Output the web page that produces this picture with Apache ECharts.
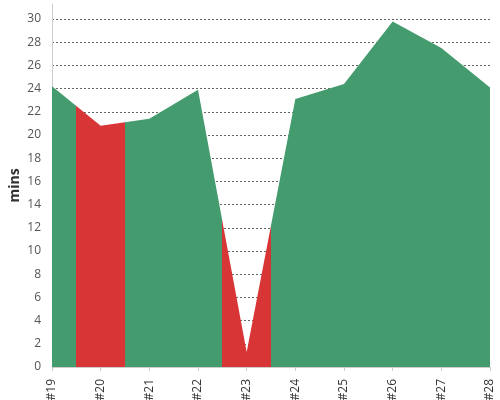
<!DOCTYPE html>
<html>
<head>
<meta charset="utf-8">
<script src="https://cdn.jsdelivr.net/npm/echarts@6/dist/echarts.min.js"></script>
<style>html,body{margin:0;padding:0;background:#fff}#c{width:500px;height:400px}</style>
</head>
<body>
<div id="c"></div>
<script>
const categories = ['#19','#20','#21','#22','#23','#24','#25','#26','#27','#28'];
const values = [24.2, 20.8, 21.4, 23.9, 1.3, 23.1, 24.4, 29.8, 27.5, 24.1];
const redRanges = [[0.5, 1.5], [3.5, 4.5]];
const yTicks = [0,2,4,6,8,10,12,14,16,18,20,22,24,26,28,30];

const GREEN = '#449B6D', RED = '#D73536';
const pieces = [];
let prev = null;
redRanges.forEach(r => {
  pieces.push(prev === null ? {lte: r[0], color: GREEN} : {gt: prev, lte: r[0], color: GREEN});
  pieces.push({gt: r[0], lte: r[1], color: RED});
  prev = r[1];
});
pieces.push({gt: prev, color: GREEN});

const seriesData = values.map((v, i) => [i, v]);
const splitColors = yTicks.map(() => '#666').concat(['rgba(0,0,0,0)']);

const chart = echarts.init(document.getElementById('c'));
chart.setOption({
  animation: false,
  grid: {left: 52, right: 10, top: 4, bottom: 33, containLabel: false, outerBoundsMode: 'none'},
  visualMap: {show: false, dimension: 0, pieces: pieces},
  xAxis: {
    type: 'value', min: 0, max: categories.length - 1, interval: 1, offset: 4,
    axisLine: {show: true, lineStyle: {color: '#ccc'}},
    axisTick: {show: true, length: 4, lineStyle: {color: '#ccc'}},
    splitLine: {show: false},
    axisLabel: {rotate: 90, color: '#333', fontSize: 12, fontFamily: 'Open Sans', margin: 8,
      formatter: v => categories[v] || ''}
  },
  yAxis: {
    type: 'value', min: 0, max: 31.3, interval: 2, offset: 3,
    name: 'mins', nameLocation: 'middle', nameGap: 27, nameMoveOverlap: false,
    nameTextStyle: {fontSize: 14, fontWeight: 'bold', color: '#333', fontFamily: 'Open Sans'},
    axisLine: {show: true, lineStyle: {color: '#ccc'}},
    axisTick: {show: false},
    axisLabel: {color: '#555', fontSize: 12, fontFamily: 'Open Sans', margin: 8,
      formatter: v => (yTicks.indexOf(v) >= 0 ? String(v) : '')},
    splitLine: {show: true, lineStyle: {color: splitColors, type: [2, 2], width: 1}}
  },
  series: [{
    type: 'line', data: seriesData, symbol: 'none',
    lineStyle: {width: 0},
    areaStyle: {opacity: 1}
  }]
});
</script>
</body>
</html>
